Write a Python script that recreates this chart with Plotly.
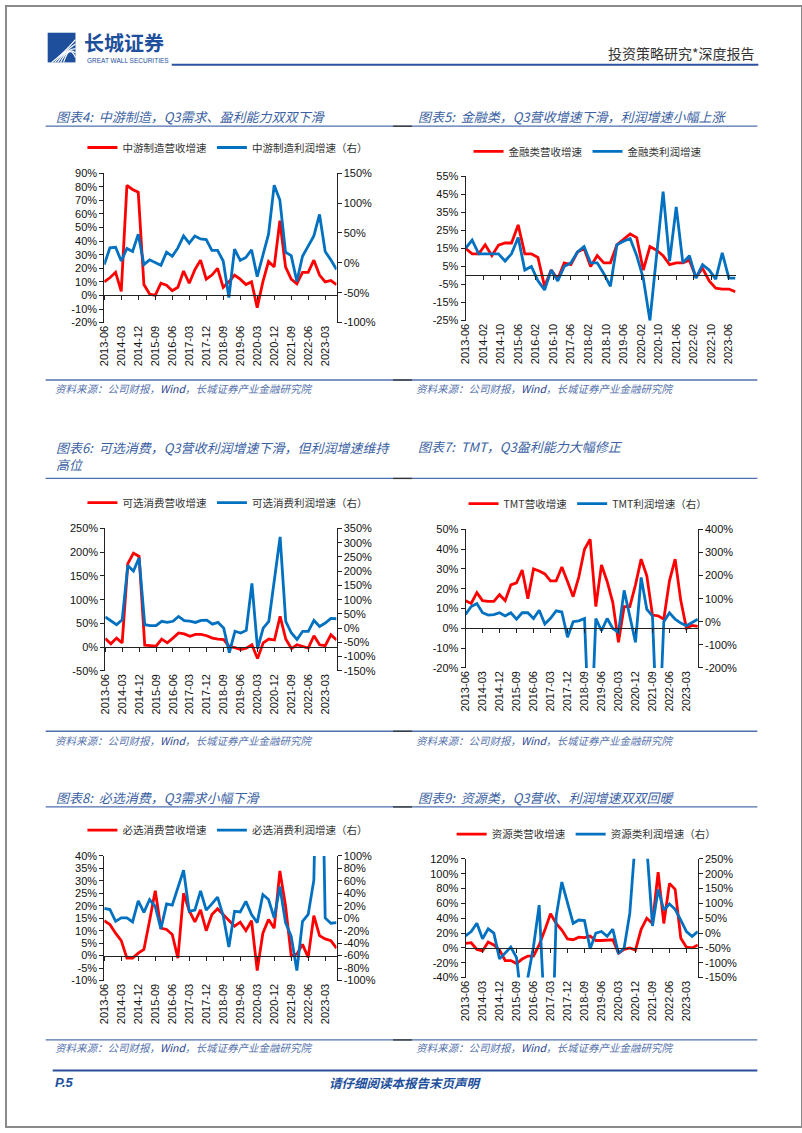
import plotly.graph_objects as go

W, H = 802, 1133

def px(x):
    return x / W

def py(y):
    return 1 - y / H

# ---------------- data ----------------
quarters = ["2013-06", "2013-09", "2013-12",
            "2014-03", "2014-06", "2014-09", "2014-12",
            "2015-03", "2015-06", "2015-09", "2015-12",
            "2016-03", "2016-06", "2016-09", "2016-12",
            "2017-03", "2017-06", "2017-09", "2017-12",
            "2018-03", "2018-06", "2018-09", "2018-12",
            "2019-03", "2019-06", "2019-09", "2019-12",
            "2020-03", "2020-06", "2020-09", "2020-12",
            "2021-03", "2021-06", "2021-09", "2021-12",
            "2022-03", "2022-06", "2022-09", "2022-12",
            "2023-03", "2023-06", "2023-09"]
fin_dates = [q + "-01" for q in quarters]
cat_ticks = quarters[::3]

mid_rev = [10, 13, 17, 3, 81, 78, 76, 8, 1, 0, 9, 7.5, 3.5, 6, 18, 9, 19, 26, 12, 15, 20,
           6, 10, 15, 12, 8, 10, -9, 10, 25, 21, 55, 21, 12, 8.5, 17, 17, 26, 15, 10, 11, 8]
mid_profit = [-3, 25, 26, 3, 24, 19, 48, -3, 5, 0, -4, 18, 11, 25, 45, 33, 45, 40, 39, 21, 21,
              3, -58, 23, 4, 9, 22, -23, 14, 48, 130, 105, 18, 12, -31, 11, 28, 45, 81, 19, 5, -11]

fin_rev = [15, 12, 12, 17, 11, 16.8, 18, 18, 28, 12, 12, 10, -6, 3, -2, 7, 6, 13, 15, 5, 11,
           7, 7, 17, 20, 23, 21, 3, 16, 14, 11, 6, 7, 7, 8.5, -1, 4, -3, -7, -7.5, -7.5, -9]
fin_profit = [15, 19.6, 12, 12, 12, 12, 8, 12, 21, 3, 5, -3, -8, 3, -3, 5, 7, 13, 16, 7, 7,
              1, -6, 17, 19, 20.5, 11, -1.5, -25, 10, 46.5, 8, 38, 7, 11, -1.5, 6, 3, -2, 12.5, -1.5, -1.5]

cons_rev = [18, 7, 19, 9, 176, 198, 191, 4, 3, 2, 17, 9, 19, 30, 28, 23, 27, 27, 24, 19, 17,
            16, 1, -1, -5, -2, 5, -24, 9, 17, 15, 65, 17, -3, 5, 2, -2, 24, 5, 3, 26, 15]
cons_profit = [39, 27, 12, 29, 220, 200, 247, 12, 9, 9, 24, 20, 24, 41, 26, 25, 20, 27, 28, 14, 20,
               0, -86, -11, -17, -8, 157, -72, 0, 24, 168, 320, 24, -17, -40, -11, -11, 27, 6, 18, 34, 33]

tmt_rev = [14, 12.6, 18, 14, 13.6, 13.6, 17, 14, 22, 23, 29.5, 15, 30, 29, 27.5, 24, 24, 31, 23.7, 16, 26,
           40, 45, 11, 32, 23.7, 13, -7, 11, 11, 22, 35, 26.5, 6.7, 6.3, 4.6, 24, 35, 14, 0, 1.5, 1]
tmt_profit = [32, 66, 79, 39, 29, 31, 39, 25, 39, 11, 39, 39, 14, 50, -10, 15, 47, 42, -67, 0, 4,
              14, -600, 14, -39, 14, -29, -46, 136, 25, -89, 192, 54, 25, -600, 0, 39, 11, -6, -17, -3, 11]

staple_rev = [14, 12.5, 9, 6, -1, -1, 1, 2.5, 14, 26, 11, 10.5, 8.5, -1, 25, 18, 13.5, 18.4, 10, 16.5, 18.8,
              16.5, 14, 11.8, 13.4, 10, 14, -6, 9, 14.5, 11, 34, 20, 0, 0.6, 4.5, -0.7, 16, 8, 6.7, 6, 3]
staple_profit = [16, 14, -5, 0.5, 0.5, -6, 28, 9.5, 30, 19, -17, 23, 21, 51, 77, 11, 13, 44, 13, 23, 34,
                 4, -46, 11, 10, 27, 6, -7, 38, 30, 0.5, 51, -7, -29, -84, -5, 6, 61, 500, 0.5, -8, -7]

res_rev = [6, 7, -2, -4, 8, 4, -3, -17, -17, -21, -15, -11, -11, 4, 24, 46, 33, 24, 12, 11, 14.5,
           14, 16, 10, 10, 10, 11, -7, -2, 0, -3, 25, 40, 33, 102, 33, 87, 79, 13, 1, 0, 4]
res_profit = [-9, 5, 33, -19, 14, 0, -87, -67, -47, -83, -250, -150, -45, 94, -300, -600, 55, 172, 100, 33, 44,
              42, -53, 0, 5.5, -11, 13, -69, -50, 67, 320, 700, 290, 24, 147, 78, 98, 80, 44, 5, -11, 5]

# tick values (percent)
c4_left = [-20, -10, 0, 10, 20, 30, 40, 50, 60, 70, 80, 90]
c4_right = [-100, -50, 0, 50, 100, 150]
c5_left = [-25, -15, -5, 5, 15, 25, 35, 45, 55]
c6_left = [-50, 0, 50, 100, 150, 200, 250]
c6_right = [-150, -100, -50, 0, 50, 100, 150, 200, 250, 300, 350]
c7_left = [-20, -10, 0, 10, 20, 30, 40, 50]
c7_right = [-200, -100, 0, 100, 200, 300, 400]
c8_left = [-10, -5, 0, 5, 10, 15, 20, 25, 30, 35, 40]
c8_right = [-100, -80, -60, -40, -20, 0, 20, 40, 60, 80, 100]
c9_left = [-40, -20, 0, 20, 40, 60, 80, 100, 120]
c9_right = [-150, -100, -50, 0, 50, 100, 150, 200, 250]

RED = "#FF0000"
BLUE = "#0070C0"
TITLE_C = "#3b5fa3"
LINE_C = "#4e6fae"
AX_C = "#222222"
TICKFONT = dict(family="Liberation Sans, Arial", size=11, color="#111111")
CJK = "Noto Sans CJK SC"

charts = [
    dict(title="图表4:  中游制造，Q3需求、盈利能力双双下滑", tx=48, ty=112,
         names=("中游制造营收增速", "中游制造利润增速（右）"), rev=mid_rev, prof=mid_profit,
         box=(99, 333, 169, 320), left=c4_left, right=c4_right, leg=(77, 143), date=False),
    dict(title="图表5:  金融类，Q3营收增速下滑，利润增速小幅上涨", tx=413, ty=112,
         names=("金融类营收增速", "金融类利润增速"), rev=fin_rev, prof=fin_profit,
         box=(463, 735, 172, 318), left=c5_left, right=None, leg=(466, 147), date=True),
    dict(title="图表6:  可选消费，Q3营收利润增速下滑，但利润增速维持<br>高位", tx=48, ty=455,
         names=("可选消费营收增速", "可选消费利润增速（右）"), rev=cons_rev, prof=cons_profit,
         box=(100, 333, 528, 672), left=c6_left, right=c6_right, leg=(77, 502), date=False),
    dict(title="图表7:  TMT，Q3盈利能力大幅修正", tx=413, ty=445,
         names=("TMT营收增速", "TMT利润增速（右）"), rev=tmt_rev, prof=tmt_profit,
         box=(463, 697, 529, 669), left=c7_left, right=c7_right, leg=(461, 503), date=False),
    dict(title="图表8:  必选消费，Q3需求小幅下滑", tx=48, ty=800,
         names=("必选消费营收增速", "必选消费利润增速（右）"), rev=staple_rev, prof=staple_profit,
         box=(99, 333, 859, 985), left=c8_left, right=c8_right, leg=(77, 833), date=False),
    dict(title="图表9:  资源类，Q3营收、利润增速双双回暖", tx=413, ty=800,
         names=("资源类营收增速", "资源类利润增速（右）"), rev=res_rev, prof=res_profit,
         box=(463, 697, 862, 982), left=c9_left, right=c9_right, leg=(449, 837), date=False),
]

fig = go.Figure()
layout = {}
annotations = []
shapes = []


def aname(letter, n):
    return letter if n == 1 else f"{letter}{n}"


def lkey(letter, n):
    return f"{letter}axis" if n == 1 else f"{letter}axis{n}"


for k, c in enumerate(charts, start=1):
    nl, nz = 2 * k - 1, 2 * k
    xl, xz = aname("x", nl), aname("x", nz)
    yl, yr = aname("y", nl), aname("y", nz)
    L, R, T, B = c["box"]
    xdom = [px(L), px(R)]
    ydom = [py(B), py(T)]
    legname = "legend" if k == 1 else f"legend{k}"
    xs = fin_dates if c["date"] else quarters

    fig.add_trace(go.Scatter(x=xs, y=c["rev"], xaxis=xl, yaxis=yl, mode="lines",
                             line=dict(color=RED, width=2.8), name=c["names"][0],
                             legend=legname, hoverinfo="skip"))
    fig.add_trace(go.Scatter(x=xs, y=c["prof"], xaxis=xl, yaxis=(yr if c["right"] else yl),
                             mode="lines", line=dict(color=BLUE, width=2.8), name=c["names"][1],
                             legend=legname, hoverinfo="skip"))
    # helper trace that carries the zero-line axis
    fig.add_trace(go.Scatter(x=xs, y=c["rev"], xaxis=xz, yaxis=yl, mode="lines",
                             line=dict(color="rgba(0,0,0,0)", width=0), showlegend=False,
                             hoverinfo="skip"))

    lo, hi = c["left"][0], c["left"][-1]
    zero_pos = ydom[0] + (0 - lo) / (hi - lo) * (ydom[1] - ydom[0])

    if c["date"]:
        xcommon = dict(type="date", range=[fin_dates[0], fin_dates[-1]], tick0=fin_dates[0],
                       dtick="M8", tickformat="%Y-%m")
    else:
        xcommon = dict(type="category", categoryorder="array", categoryarray=quarters,
                       range=[0, len(quarters) - 1], tickmode="array", tickvals=cat_ticks)

    layout[lkey("x", nl)] = dict(domain=xdom, anchor=yl, showline=False, ticks="",
                                 showgrid=False, zeroline=False, tickangle=-90,
                                 tickfont=TICKFONT, **xcommon)
    layout[lkey("x", nz)] = dict(domain=xdom, overlaying=xl, anchor="free", position=zero_pos,
                                 showline=True, linecolor=AX_C, linewidth=1, ticks="outside",
                                 ticklen=4, tickcolor=AX_C, tickwidth=1, showticklabels=False,
                                 showgrid=False, zeroline=False, **xcommon)
    layout[lkey("y", nl)] = dict(domain=ydom, anchor=xl, range=[lo, hi], tickmode="array",
                                 tickvals=c["left"], ticktext=[f"{v}%" for v in c["left"]],
                                 showline=True, linecolor=AX_C, linewidth=1, ticks="outside",
                                 ticklen=4, tickcolor=AX_C, showgrid=False, zeroline=False,
                                 tickfont=TICKFONT)
    if c["right"]:
        rlo, rhi = c["right"][0], c["right"][-1]
        layout[lkey("y", nz)] = dict(overlaying=yl, side="right", anchor=xl, range=[rlo, rhi],
                                     tickmode="array", tickvals=c["right"],
                                     ticktext=[f"{v}%" for v in c["right"]],
                                     showline=True, linecolor=AX_C, linewidth=1, ticks="outside",
                                     ticklen=4, tickcolor=AX_C, showgrid=False, zeroline=False,
                                     tickfont=TICKFONT)

    lx, ly = c["leg"]
    layout[legname] = dict(x=px(lx), y=py(ly), xanchor="left", yanchor="middle",
                           orientation="h", bgcolor="rgba(0,0,0,0)", borderwidth=0,
                           font=dict(family=CJK, size=10.5, color="#333333"),
                           itemwidth=30, traceorder="normal")

    annotations.append(dict(text=c["title"], x=px(c["tx"]), y=py(c["ty"]), xref="paper",
                            yref="paper", xanchor="left", yanchor="middle", showarrow=False,
                            align="left",
                            font=dict(family=CJK, size=13, color=TITLE_C, style="italic")))

# ---------------- page decorations ----------------
def hline(x0, x1, y, color, width):
    shapes.append(dict(type="line", xref="paper", yref="paper", x0=px(x0), x1=px(x1),
                       y0=py(y), y1=py(y), line=dict(color=color, width=width)))

for yy in (121.5, 477.5, 809.5, 378, 733, 1045):
    hline(40, 757, yy, LINE_C, 1.3)
    hline(390, 409, yy, "#333333", 1.3)
hline(47, 757, 1076, "#2b4f9c", 2)
# header rule
hline(167, 758, 59.5, "#2b52a0", 2)

# page border
shapes.append(dict(type="rect", xref="paper", yref="paper", x0=0, x1=1, y0=0, y1=1,
                   line=dict(color="#8a8a8a", width=2)))

# logo block
shapes.append(dict(type="rect", xref="paper", yref="paper", x0=px(42), x1=px(70),
                   y0=py(57), y1=py(27), fillcolor="#1d4f9c", line=dict(width=0)))
for off in (0, 5, 10, 15, 20):
    path = (f"M {px(46 + off * 0.6)},{py(57)} Q {px(58 + off * 0.3)},{py(48 - off * 0.5)} "
            f"{px(70)},{py(34 + off * 0.9)}")
    shapes.append(dict(type="path", xref="paper", yref="paper", path=path,
                       line=dict(color="white", width=1.2)))

annotations.append(dict(text="<b>长城证券</b>", x=px(77), y=py(37), xref="paper", yref="paper",
                        xanchor="left", yanchor="middle", showarrow=False,
                        font=dict(family=CJK, size=20, color="#1d4f9c")))
annotations.append(dict(text="GREAT WALL SECURITIES", x=px(80), y=py(55), xref="paper",
                        yref="paper", xanchor="left", yanchor="middle", showarrow=False,
                        font=dict(family="Liberation Sans Narrow, Liberation Sans", size=6.5,
                                  color="#1d4f9c")))
annotations.append(dict(text="投资策略研究*深度报告", x=px(757), y=py(48), xref="paper",
                        yref="paper", xanchor="right", yanchor="middle", showarrow=False,
                        font=dict(family=CJK, size=14, color="#333333")))

src = "资料来源：公司财报，<span style='color:#1f3f8f'>Wind</span>，长城证券产业金融研究院"
for sx in (47, 411):
    for sy in (387, 742, 1053):
        annotations.append(dict(text=src, x=px(sx), y=py(sy), xref="paper", yref="paper",
                                xanchor="left", yanchor="middle", showarrow=False,
                                font=dict(family=CJK, size=10.5, color="#5573ad",
                                          style="italic")))

annotations.append(dict(text="<b>P.5</b>", x=px(47), y=py(1088), xref="paper", yref="paper",
                        xanchor="left", yanchor="middle", showarrow=False,
                        font=dict(family="Liberation Sans", size=13, color="#1d4f9c",
                                  style="italic")))
annotations.append(dict(text="<b>请仔细阅读本报告末页声明</b>", x=px(403), y=py(1088),
                        xref="paper", yref="paper", xanchor="center", yanchor="middle",
                        showarrow=False,
                        font=dict(family=CJK, size=12.5, color="#1d4f9c", style="italic")))

fig.update_layout(width=W, height=H, margin=dict(l=0, r=0, t=0, b=0), autosize=False,
                  paper_bgcolor="white", plot_bgcolor="rgba(0,0,0,0)",
                  annotations=annotations, shapes=shapes, **layout)

page_fix = (
    "document.documentElement.style.margin='0';document.body.style.margin='0';"
    "document.documentElement.style.overflow='hidden';document.body.style.overflow='hidden';"
    "var g=document.querySelector('.plotly-graph-div');"
    "if(g){g.style.position='absolute';g.style.left='0px';g.style.top='0px';}"
)
fig.write_html("out.html", post_script=page_fix, config={"displayModeBar": False})
